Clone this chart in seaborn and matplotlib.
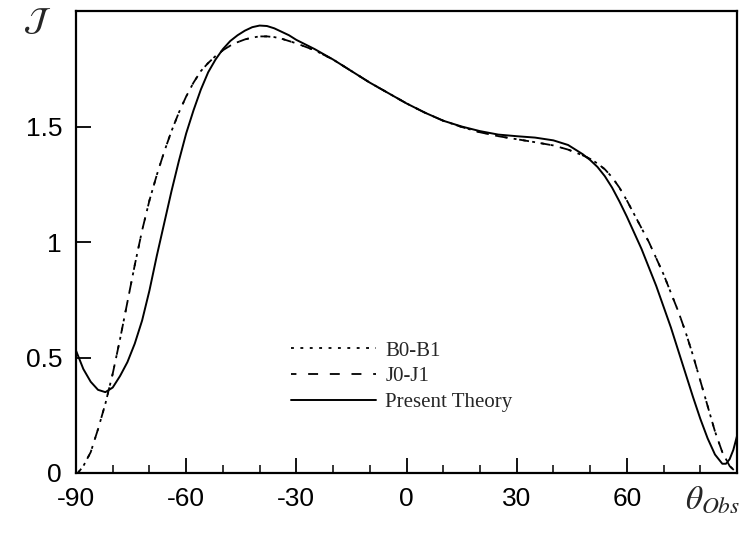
import numpy as np
import pandas as pd
import matplotlib
matplotlib.use("Agg")
import matplotlib.pyplot as plt
import seaborn as sns
from matplotlib.ticker import FixedLocator, MultipleLocator

# ---------------- data ----------------
theta_present = [-90, -88, -86, -84, -82, -80, -78, -76, -74, -72, -70, -68, -66, -64, -62,
                 -60, -58, -56, -54, -52, -50, -48, -46, -44, -42, -40, -38, -36, -34, -32,
                 -30, -25, -20, -15, -10, -5, 0, 5, 10, 15, 20, 25, 30, 35, 40, 44, 48, 50,
                 52, 54, 56, 58, 60, 62, 64, 66, 68, 70, 72, 74, 76, 78, 80, 82, 84, 86, 87,
                 88, 89, 90]
j_present = [0.53, 0.45, 0.395, 0.36, 0.35, 0.37, 0.42, 0.48, 0.56, 0.66, 0.79, 0.94, 1.08,
             1.22, 1.35, 1.47, 1.57, 1.66, 1.735, 1.79, 1.835, 1.87, 1.895, 1.915, 1.93,
             1.937, 1.935, 1.925, 1.91, 1.895, 1.875, 1.835, 1.79, 1.74, 1.69, 1.645, 1.60,
             1.56, 1.525, 1.50, 1.48, 1.465, 1.458, 1.452, 1.44, 1.42, 1.38, 1.355, 1.325,
             1.285, 1.235, 1.175, 1.11, 1.04, 0.97, 0.89, 0.81, 0.72, 0.63, 0.53, 0.43, 0.33,
             0.235, 0.15, 0.08, 0.04, 0.04, 0.06, 0.10, 0.16]

theta_j = [-89.5, -88, -86, -84, -82, -80, -78, -76, -74, -72, -70, -68, -66, -64, -62, -60,
           -58, -56, -54, -52, -50, -48, -46, -44, -42, -40, -38, -36, -34, -32, -30, -25,
           -20, -15, -10, -5, 0, 5, 10, 15, 20, 25, 30, 35, 40, 44, 48, 50, 52, 54, 56, 58,
           60, 62, 64, 66, 68, 70, 72, 74, 76, 78, 80, 82, 84, 86, 88, 90]
j_j0j1 = [0.0, 0.03, 0.09, 0.19, 0.30, 0.43, 0.58, 0.74, 0.90, 1.05, 1.18, 1.29, 1.39, 1.48,
          1.56, 1.63, 1.69, 1.74, 1.775, 1.805, 1.83, 1.85, 1.865, 1.877, 1.885, 1.89, 1.89,
          1.887, 1.88, 1.87, 1.86, 1.83, 1.79, 1.74, 1.69, 1.645, 1.60, 1.56, 1.525, 1.498,
          1.475, 1.458, 1.445, 1.432, 1.418, 1.40, 1.375, 1.36, 1.34, 1.315, 1.28, 1.235,
          1.18, 1.12, 1.06, 1.00, 0.93, 0.86, 0.78, 0.70, 0.61, 0.51, 0.40, 0.29, 0.18, 0.09,
          0.03, 0.0]

theta_b = theta_j
j_b0b1 = [0.0, 0.03, 0.09, 0.19, 0.30, 0.43, 0.58, 0.74, 0.90, 1.05, 1.18, 1.29, 1.39, 1.48,
          1.56, 1.63, 1.69, 1.74, 1.775, 1.805, 1.83, 1.85, 1.865, 1.877, 1.885, 1.89, 1.89,
          1.887, 1.88, 1.87, 1.86, 1.83, 1.79, 1.74, 1.69, 1.645, 1.60, 1.56, 1.525, 1.498,
          1.475, 1.458, 1.445, 1.432, 1.418, 1.40, 1.375, 1.36, 1.34, 1.315, 1.28, 1.235,
          1.18, 1.12, 1.06, 1.00, 0.93, 0.86, 0.78, 0.70, 0.61, 0.51, 0.40, 0.29, 0.18, 0.09,
          0.03, 0.0]

series_labels = ["B0-B1", "J0-J1", "Present Theory"]
x_tick_values = [-90, -60, -30, 0, 30, 60]
x_tick_labels = ["-90", "-60", "-30", "0", "30", "60"]
y_tick_values = [0, 0.5, 1, 1.5]
y_tick_labels = ["0", "0.5", "1", "1.5"]

# ---------------- style ----------------
sns.set_theme(style="ticks")
plt.rcParams["font.family"] = ["Liberation Sans", "DejaVu Sans"]
plt.rcParams["mathtext.fontset"] = "stix"

fig = plt.figure(figsize=(7.44, 5.5), dpi=100)
ax = fig.add_axes([76 / 744, 1 - 473 / 550, (737 - 76) / 744, (473 - 11) / 550])

df_b = pd.DataFrame({"theta": theta_b, "J": j_b0b1})
df_j = pd.DataFrame({"theta": theta_j, "J": j_j0j1})
df_p = pd.DataFrame({"theta": theta_present, "J": j_present})

sns.lineplot(data=df_b, x="theta", y="J", ax=ax, color="black", lw=1.3,
             linestyle=(0, (1.6, 3.6)), label=series_labels[0], sort=False)
sns.lineplot(data=df_j, x="theta", y="J", ax=ax, color="black", lw=1.3,
             linestyle=(2.5, (5.5, 6.5)), label=series_labels[1], sort=False)
sns.lineplot(data=df_p, x="theta", y="J", ax=ax, color="black", lw=1.4,
             linestyle="-", label=series_labels[2], sort=False)

ax.set_xlim(-90, 90)
ax.set_ylim(0, 2.0)
ax.set_xlabel("")
ax.set_ylabel("")

ax.xaxis.set_major_locator(FixedLocator(x_tick_values))
ax.set_xticklabels(x_tick_labels)
ax.xaxis.set_minor_locator(MultipleLocator(10))
ax.yaxis.set_major_locator(FixedLocator(y_tick_values))
ax.set_yticklabels(y_tick_labels)

ax.tick_params(axis="both", which="major", direction="in", length=11, width=1.3,
               labelsize=19, colors="black", pad=10)
ax.tick_params(axis="x", which="minor", direction="in", length=6, width=1.3)
ax.tick_params(axis="y", which="minor", left=False)
ax.tick_params(top=False, right=False, which="both")

for s in ax.spines.values():
    s.set_visible(True)
    s.set_linewidth(1.6)
    s.set_color("black")

fig.text(37 / 744, 1 - 22 / 550, r"$\mathcal{J}$", fontsize=24, ha="center", va="center")
fig.text(740 / 744, 1 - 500 / 550, r"$\theta_{Obs}$", fontsize=24, ha="right",
         va="center")

leg = ax.legend(loc="upper left", bbox_to_anchor=(291 / 744, 1 - 341 / 550),
                bbox_transform=fig.transFigure, frameon=False, borderpad=0,
                borderaxespad=0, handlelength=4.1, handletextpad=0.43,
                labelspacing=0.3, prop={"family": "Liberation Serif", "size": 15})

fig.savefig("out.png", dpi=100, facecolor="white")
